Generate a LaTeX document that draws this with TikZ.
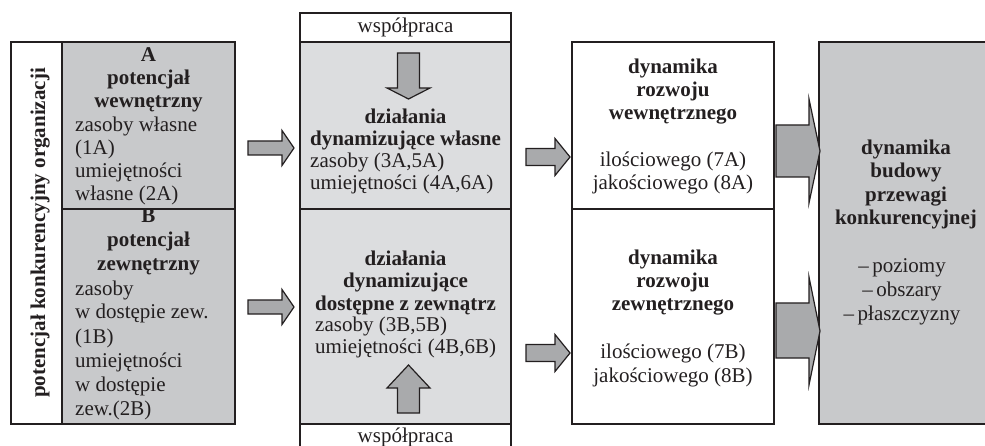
\documentclass[tikz,border=0pt]{standalone}
\usepackage{fontspec}
\setmainfont{Liberation Serif}
\definecolor{gA}{HTML}{C8C9CB}
\definecolor{gM}{HTML}{DCDDDF}
\definecolor{gArr}{HTML}{A9AAAC}
\definecolor{ink}{HTML}{231F20}
\tikzset{
  box/.style={draw=ink, line width=1.8pt, anchor=north west, inner sep=0pt, outer sep=0pt},
  txt/.style={inner sep=0pt, anchor=base, text=ink, font=\fontsize{21}{23}\selectfont},
  txtb/.style={txt, font=\fontsize{21}{23}\selectfont\bfseries},
  txtl/.style={txt, anchor=base west},
  arr/.style={draw=ink, fill=gArr, line width=1.2pt, line join=miter},
}
\begin{document}
\begin{tikzpicture}[x=1pt,y=-1pt]
\useasboundingbox (0,0) rectangle (985,446);
% left group
\node[box, minimum width=224, minimum height=382] (org) at (11,42) {};
\node[box, fill=gA, minimum width=173, minimum height=167] (potA) at (62,42) {};
\node[box, fill=gA, minimum width=173, minimum height=215] (potB) at (62,209) {};
\node[box, minimum width=51, minimum height=382] (col) at (11,42) {};
% middle group
\node[box, minimum width=211, minimum height=29] (wspT) at (300,13) {};
\node[box, fill=gM, minimum width=211, minimum height=167] (dzA) at (300,42) {};
\node[box, fill=gM, minimum width=211, minimum height=215] (dzB) at (300,209) {};
\node[box, minimum width=211, minimum height=30] (wspB) at (300,424) {};
% right-middle group
\node[box, minimum width=202, minimum height=167] (rozA) at (572,42) {};
\node[box, minimum width=202, minimum height=215] (rozB) at (572,209) {};
% big box
\node[box, fill=gA, minimum width=180, minimum height=382] (big) at (819,42) {};

% vertical text
\node[txtb, rotate=90] (vert) at (45,233) {potencjał konkurencyjny organizacji};
% box A
\node[txtb] (aH1) at (148.5,62) {A};
\node[txtb] (aH2) at (148.5,85) {potencjał};
\node[txtb] (aH3) at (148.5,108) {wewnętrzny};
\node[txtl] (aL1) at (75,132) {zasoby własne};
\node[txtl] (aL2) at (75,155) {(1A)};
\node[txtl] (aL3) at (75,178) {umiejętności};
\node[txtl] (aL4) at (75,201) {własne (2A)};
% box B
\node[txtb] (bH1) at (148.5,223) {B};
\node[txtb] (bH2) at (148.5,247) {potencjał};
\node[txtb] (bH3) at (148.5,271) {zewnętrzny};
\node[txtl] (bL1) at (75,295) {zasoby};
\node[txtl] (bL2) at (75,319) {w dostępie zew.};
\node[txtl] (bL3) at (75,343) {(1B)};
\node[txtl] (bL4) at (75,367) {umiejętności};
\node[txtl] (bL5) at (75,391) {w dostępie};
\node[txtl] (bL6) at (75,415) {zew.(2B)};
% middle texts
\node[txt] (wT) at (405.5,33) {współpraca};
\node[txtb] (mA1) at (405.5,124) {działania};
\node[txtb] (mA2) at (405.5,146) {dynamizujące własne};
\node[txtl] (mA3) at (310,168) {zasoby (3A,5A)};
\node[txtl] (mA4) at (310,190) {umiejętności (4A,6A)};
\node[txtb] (mB1) at (405.5,266) {działania};
\node[txtb] (mB2) at (405.5,288) {dynamizujące};
\node[txtb] (mB3) at (405.5,310) {dostępne z zewnątrz};
\node[txtl] (mB4) at (315,331) {zasoby (3B,5B)};
\node[txtl] (mB5) at (315,353) {umiejętności (4B,6B)};
\node[txt] (wB) at (405.5,442) {współpraca};
% right-middle texts
\node[txtb] (rA1) at (673,74) {dynamika};
\node[txtb] (rA2) at (673,97) {rozwoju};
\node[txtb] (rA3) at (673,120) {wewnętrznego};
\node[txt] (rA4) at (673,167) {ilościowego (7A)};
\node[txt] (rA5) at (673,190) {jakościowego (8A)};
\node[txtb] (rB1) at (673,265) {dynamika};
\node[txtb] (rB2) at (673,288) {rozwoju};
\node[txtb] (rB3) at (673,311) {zewnętrznego};
\node[txt] (rB4) at (673,358) {ilościowego (7B)};
\node[txt] (rB5) at (673,382) {jakościowego (8B)};
% big box texts
\node[txtb] (g1) at (906,155) {dynamika};
\node[txtb] (g2) at (906,178) {budowy};
\node[txtb] (g3) at (906,202) {przewagi};
\node[txtb] (g4) at (906,225) {konkurencyjnej};
\node[txt] (g5) at (902,273) {–\,poziomy};
\node[txt] (g6) at (902,297) {–\,obszary};
\node[txt] (g7) at (902,320) {–\,płaszczyzny};

% block arrows
\draw[arr] (248,141) -- (282,141) -- (282,130.5) -- (294,148) -- (282,165.5) -- (282,155) -- (248,155) -- cycle;
\draw[arr] (248,300) -- (282,300) -- (282,289.5) -- (294,307) -- (282,324.5) -- (282,314) -- (248,314) -- cycle;
\draw[arr] (526,148.5) -- (555,148.5) -- (555,138.5) -- (570,157) -- (555,175.5) -- (555,165.5) -- (526,165.5) -- cycle;
\draw[arr] (526,344.5) -- (555,344.5) -- (555,334.5) -- (570,353) -- (555,371.5) -- (555,361.5) -- (526,361.5) -- cycle;
\draw[arr] (776,125) -- (809,125) -- (809,99) -- (820,151) -- (809,203) -- (809,177) -- (776,177) -- cycle;
\draw[arr] (776,303) -- (809,303) -- (809,277) -- (820,331) -- (809,385) -- (809,358) -- (776,358) -- cycle;
\draw[arr] (397.5,53) -- (419.5,53) -- (419.5,88) -- (430,88) -- (408.5,99) -- (387,88) -- (397.5,88) -- cycle;
\draw[arr] (397.5,413) -- (397.5,388) -- (387,388) -- (408.5,365) -- (430,388) -- (419.5,388) -- (419.5,413) -- cycle;
\end{tikzpicture}
\end{document}
